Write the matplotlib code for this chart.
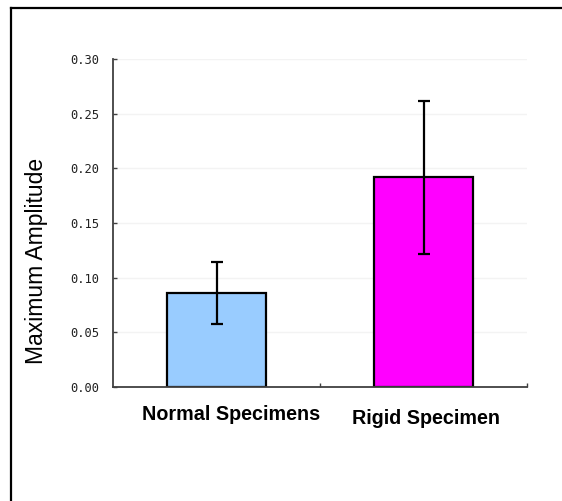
import matplotlib
matplotlib.use("Agg")
import matplotlib.pyplot as plt
from matplotlib.lines import Line2D

categories = ["Normal Specimens", "Rigid Specimen"]
values = [0.086, 0.192]
errors = [0.028, 0.070]
yticks = [0.00, 0.05, 0.10, 0.15, 0.20, 0.25, 0.30]
ylabel = "Maximum Amplitude"
colors = ["#99CCFF", "#FF00FF"]

W, H = 562, 501
fig = plt.figure(figsize=(W / 100, H / 100), dpi=100)
fig.patch.set_facecolor("white")

# outer frame (top + left)
fig.add_artist(Line2D([10.5 / W, 10.5 / W], [0, 1 - 7.5 / H], transform=fig.transFigure,
                      color="black", lw=1.6))
fig.add_artist(Line2D([10.5 / W, 1], [1 - 7.5 / H, 1 - 7.5 / H], transform=fig.transFigure,
                      color="black", lw=1.6))

ax = fig.add_axes([113 / W, 1 - 387 / H, (527 - 113) / W, (387 - 59) / H])
x = list(range(len(categories)))
ax.set_axisbelow(True)
ax.yaxis.grid(True, color="#f3f3f3", lw=1)
ax.bar(x, values, width=0.48, color=colors, edgecolor="black", linewidth=1.6, zorder=2)
ax.errorbar(x, values, yerr=errors, fmt="none", ecolor="black", elinewidth=1.6,
            capsize=4.5, capthick=1.6, zorder=3)

ax.set_xlim(-0.5, 1.5)
ax.set_ylim(0, 0.30)
ax.set_yticks(yticks)
ax.set_yticklabels([f"{t:.2f}" for t in yticks], fontfamily="DejaVu Sans Mono",
                   fontsize=8.7, color="#222222")
ax.set_xticks([0.5, 1.5])
ax.set_xticklabels([])
ax.tick_params(axis="both", direction="in", length=3, width=1, color="#404040")
ax.tick_params(axis="y", pad=10)
for s in ["top", "right"]:
    ax.spines[s].set_visible(False)
for s in ["left", "bottom"]:
    ax.spines[s].set_color("#404040")
    ax.spines[s].set_linewidth(1.3)

label_dx = [0.07, 0.01]
label_dy = [-27, -31]
for i, c in enumerate(categories):
    ax.annotate(c, xy=(x[i] + label_dx[i], 0), xycoords=("data", "axes fraction"),
                xytext=(0, label_dy[i] * 0.72), textcoords="offset points",
                ha="center", va="center", fontsize=14.2, fontweight="bold",
                fontfamily="Liberation Sans")

fig.text(37 / W, 1 - 261 / H, ylabel, rotation=90, ha="center", va="center",
         fontsize=16.5, fontfamily="Liberation Sans")

fig.savefig("out.png", dpi=100)
